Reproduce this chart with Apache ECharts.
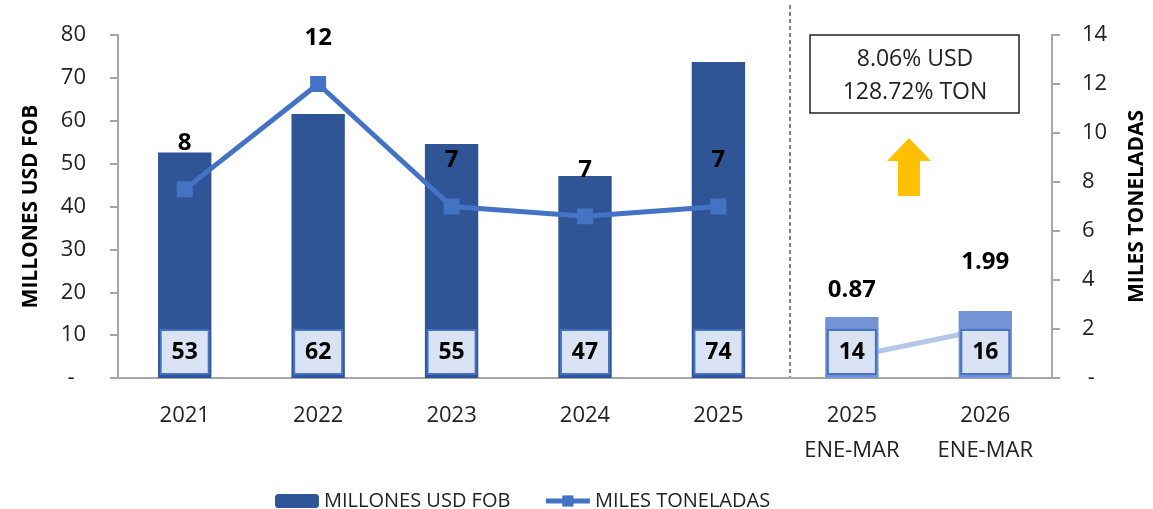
<!DOCTYPE html>
<html><head><meta charset="utf-8">
<script src="https://cdn.jsdelivr.net/npm/echarts@6/dist/echarts.min.js"></script>
<style>html,body{margin:0;padding:0;background:#fff}#c{width:1153px;height:509px}</style>
</head><body><div id="c"></div>
<script>
const categories = ['2021','2022','2023','2024','2025','2025\nENE-MAR','2026\nENE-MAR'];
const usdAnnual = [52.6, 61.6, 54.6, 47.1, 73.7, null, null];
const usdQuarter = [null, null, null, null, null, 14.2, 15.6];
const tonAnnual = [7.7, 12.0, 7.0, 6.6, 7.0, null, null];
const tonQuarter = [null, null, null, null, null, 0.87, 1.99];
const boxLines = ['8.06% USD', '128.72% TON'];

const FONT = '"Open Sans", sans-serif';
const toData = a => a.map(v => v === null ? '-' : v);
const barLabel = {
  show: true, position: 'insideBottom', distance: 5,
  formatter: p => Math.round(p.value),
  backgroundColor: '#dae3f3', borderColor: '#4472c4', borderWidth: 2,
  width: 46, height: 42, lineHeight: 42, align: 'center',
  color: '#000', fontWeight: 'bold', fontSize: 23, fontFamily: FONT
};
const chart = echarts.init(document.getElementById('c'));
chart.setOption({
  animation: false,
  textStyle: {fontFamily: FONT},
  grid: {left: 118, right: 101, top: 35, bottom: 131, outerBoundsMode: 'none', containLabel: false},
  legend: {
    data: [
      {name: 'MILLONES USD FOB'},
      {name: 'MILES TONELADAS', lineStyle: {width: 5}}
    ],
    top: 486, left: 270,
    itemWidth: 44, itemHeight: 14, itemGap: 33,
    textStyle: {fontSize: 20, color: '#222', fontFamily: FONT}
  },
  xAxis: {
    type: 'category', data: categories,
    axisLine: {lineStyle: {color: '#a6a6a6', width: 2}},
    axisTick: {show: false},
    axisLabel: {fontSize: 22, color: '#222', lineHeight: 35, margin: 20, interval: 0}
  },
  yAxis: [{
    type: 'value', min: 0, max: 80, interval: 10,
    name: 'MILLONES USD FOB', nameLocation: 'middle', nameGap: 76, nameRotate: 90,
    nameTextStyle: {fontSize: 21, fontWeight: 'bold', color: '#000'},
    axisLine: {show: true, lineStyle: {color: '#a6a6a6', width: 2}},
    axisTick: {show: true, inside: false, length: 8, lineStyle: {color: '#a6a6a6', width: 2}},
    splitLine: {show: false},
    axisLabel: {fontSize: 22, color: '#222', margin: 32, formatter: v => v === 0 ? '-  ' : v}
  }, {
    type: 'value', min: 0, max: 14, interval: 2, position: 'right',
    name: 'MILES TONELADAS', nameLocation: 'middle', nameGap: 75, nameRotate: 90,
    nameTextStyle: {fontSize: 21, fontWeight: 'bold', color: '#000'},
    axisLine: {show: true, lineStyle: {color: '#a6a6a6', width: 2}},
    axisTick: {show: true, inside: false, length: 8, lineStyle: {color: '#a6a6a6', width: 2}},
    splitLine: {show: false},
    axisLabel: {fontSize: 22, color: '#222', margin: 30, formatter: v => v === 0 ? ' -' : v}
  }],
  series: [
    {name: 'MILLONES USD FOB', type: 'bar', data: toData(usdAnnual), barWidth: '40%', barGap: '-100%',
     itemStyle: {color: '#2f5597'}, label: barLabel, z: 2},
    {name: 'USD Q', type: 'bar', data: toData(usdQuarter), barWidth: '40%', barGap: '-100%',
     itemStyle: {color: '#7393d6'}, label: barLabel, z: 4},
    {name: 'MILES TONELADAS', type: 'line', yAxisIndex: 1, data: toData(tonAnnual),
     symbol: 'rect', symbolSize: 16, lineStyle: {color: '#4472c4', width: 5},
     itemStyle: {color: '#4472c4'}, z: 5,
     label: {show: true, position: 'top', distance: 26, formatter: p => Math.round(p.value),
             fontSize: 24, fontWeight: 'bold', color: '#000'}},
    {name: 'TON Q', type: 'line', yAxisIndex: 1, data: toData(tonQuarter),
     symbol: 'rect', symbolSize: 10, lineStyle: {color: '#b4c7e7', width: 5}, itemStyle: {color: '#b4c7e7'}, z: 3,
     label: {show: true, position: 'top', distance: 50, formatter: p => p.value.toFixed(2),
             fontSize: 24, fontWeight: 'bold', color: '#000'}}
  ],
  graphic: [
    {type: 'line', shape: {x1: 790, y1: 5, x2: 790, y2: 378},
     style: {stroke: '#7f7f7f', lineWidth: 2, lineDash: [4, 3]}},
    {type: 'rect', shape: {x: 810, y: 35, width: 209, height: 78},
     style: {fill: '#fff', stroke: '#222', lineWidth: 1.5}},
    {type: 'text', x: 915, y: 59, style: {text: boxLines[0], fontSize: 23, fill: '#222',
      fontFamily: FONT, align: 'center', verticalAlign: 'middle'}},
    {type: 'text', x: 915, y: 92, style: {text: boxLines[1], fontSize: 23, fill: '#222',
      fontFamily: FONT, align: 'center', verticalAlign: 'middle'}},
    {type: 'polygon', shape: {points: [[909,138],[931,161],[920,161],[920,196],[898,196],[898,161],[887,161]]},
     style: {fill: '#ffc000'}}
  ]
});
</script></body></html>
